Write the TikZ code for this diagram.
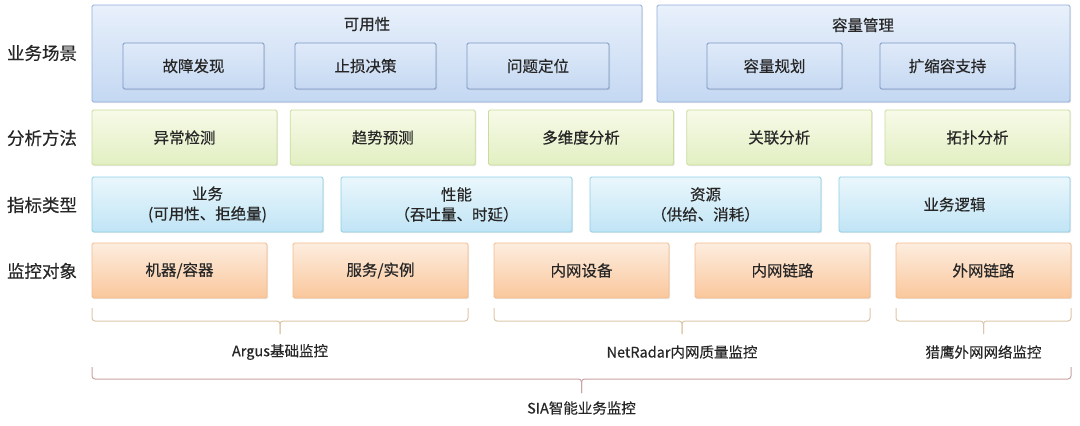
\documentclass[tikz,border=0pt]{standalone}
\usepackage{fontspec}
\setmainfont{Noto Sans CJK SC}[FakeBold=0.35]
\usetikzlibrary{calc,shadows}
\definecolor{txt}{HTML}{262626}
\definecolor{bAtop}{HTML}{E8F0FB}
\definecolor{bAbot}{HTML}{C4D8F2}
\definecolor{bAbd}{HTML}{93AEDA}
\definecolor{bItop}{HTML}{DFEAF9}
\definecolor{bIbot}{HTML}{C6D9F2}
\definecolor{bIbd}{HTML}{7B96C2}
\definecolor{gtop}{HTML}{F7FAE8}
\definecolor{gbot}{HTML}{E2EFC2}
\definecolor{gbd}{HTML}{C9DC9E}
\definecolor{ctop}{HTML}{EAF7FC}
\definecolor{cbot}{HTML}{C0E4F5}
\definecolor{cbd}{HTML}{90CEE6}
\definecolor{otop}{HTML}{FDEDDF}
\definecolor{obot}{HTML}{FAC79C}
\definecolor{obd}{HTML}{F2BC8E}
\definecolor{brA}{HTML}{DCC6A8}
\definecolor{brB}{HTML}{C9A2A2}
\tikzset{
  box/.style={rectangle, rounded corners=1.5pt, line width=0.9pt, inner sep=0pt, outer sep=0pt,
    anchor=north west, text=txt, font=\fontsize{15.5}{20}\selectfont, align=center,
    drop shadow={opacity=0.18, shadow xshift=1.2pt, shadow yshift=-1.2pt}},
  bigbox/.style={box, draw=bAbd, top color=bAtop, bottom color=bAbot},
  innerbox/.style={box, draw=bIbd, top color=bItop, bottom color=bIbot, minimum height=46pt},
  greenbox/.style={box, draw=gbd, top color=gtop, bottom color=gbot, minimum width=185pt, minimum height=55pt},
  cyanbox/.style={box, draw=cbd, top color=ctop, bottom color=cbot, minimum width=231pt, minimum height=55pt},
  orangebox/.style={box, draw=obd, top color=otop, bottom color=obot, minimum width=175pt, minimum height=55pt},
  rowlabel/.style={text=txt, font=\fontsize{17.5}{20}\selectfont, inner sep=0pt},
  titlelabel/.style={text=txt, font=\fontsize{15.5}{20}\selectfont, inner sep=0pt},
  bracelabel/.style={text=txt, font=\fontsize{14.5}{18}\selectfont, inner sep=0pt},
  bracelineA/.style={draw=brA, line width=1pt, rounded corners=3pt},
  bracelineB/.style={draw=brB, line width=1pt, rounded corners=3pt},
}
\begin{document}
\begin{tikzpicture}[x=1pt,y=-1pt]
\useasboundingbox (0,0) rectangle (1080,426);
% row labels
\node[rowlabel] (l1) at (42,53) {业务场景};
\node[rowlabel] (l2) at (42,138) {分析方法};
\node[rowlabel] (l3) at (42,205) {指标类型};
\node[rowlabel] (l4) at (42,271) {监控对象};
% row 1
\node[bigbox, minimum width=550pt, minimum height=97pt] (ka) at (92,5) {};
\node[bigbox, minimum width=413pt, minimum height=97pt] (kb) at (657,5) {};
\node[titlelabel] (ta) at (367,24) {可用性};
\node[titlelabel] (tb) at (863,25) {容量管理};
\node[innerbox, minimum width=141pt] (i1) at (123,43) {故障发现};
\node[innerbox, minimum width=141pt] (i2) at (295,43) {止损决策};
\node[innerbox, minimum width=142pt] (i3) at (467,43) {问题定位};
\node[innerbox, minimum width=135pt] (i4) at (707,43) {容量规划};
\node[innerbox, minimum width=135pt] (i5) at (880,43) {扩缩容支持};
% row 2
\node[greenbox] (g1) at (92,110) {异常检测};
\node[greenbox] (g2) at (290.25,110) {趋势预测};
\node[greenbox] (g3) at (488.5,110) {多维度分析};
\node[greenbox] (g4) at (686.75,110) {关联分析};
\node[greenbox] (g5) at (885,110) {拓扑分析};
% row 3
\node[cyanbox] (c1) at (92,177) {业务\\(可用性、拒绝量)};
\node[cyanbox] (c2) at (341,177) {性能\\（吞吐量、时延）};
\node[cyanbox] (c3) at (590,177) {资源\\（供给、消耗）};
\node[cyanbox] (c4) at (839,177) {业务逻辑};
% row 4
\node[orangebox] (m1) at (92,243) {机器/容器};
\node[orangebox] (m2) at (293,243) {服务/实例};
\node[orangebox] (m3) at (494,243) {内网设备};
\node[orangebox] (m4) at (695,243) {内网链路};
\node[orangebox] (m5) at (896,243) {外网链路};
% braces
\coordinate (b1l) at ($(m1.south west)+(0,10)$);
\coordinate (b1r) at ($(m2.south east)+(0,10)$);
\coordinate (b1t) at ($(b1l)!0.5!(b1r)$);
\draw[bracelineA] (b1l) -- ++(0,13) -| ($(b1t)+(0,26)$);
\draw[bracelineA] (b1r) -- ++(0,13) -| ($(b1t)+(0,26)$);
\node[bracelabel] (bl1) at ($(b1t)+(0,44)$) {Argus基础监控};
\coordinate (b2l) at ($(m3.south west)+(0,10)$);
\coordinate (b2r) at ($(m4.south east)+(0,10)$);
\coordinate (b2t) at ($(b2l)!0.5!(b2r)$);
\draw[bracelineA] (b2l) -- ++(0,13) -| ($(b2t)+(0,26)$);
\draw[bracelineA] (b2r) -- ++(0,13) -| ($(b2t)+(0,26)$);
\node[bracelabel] (bl2) at ($(b2t)+(0,44)$) {NetRadar内网质量监控};
\coordinate (b3l) at ($(m5.south west)+(0,10)$);
\coordinate (b3r) at ($(m5.south east)+(0,10)$);
\coordinate (b3t) at ($(b3l)!0.5!(b3r)$);
\draw[bracelineA] (b3l) -- ++(0,13) -| ($(b3t)+(0,26)$);
\draw[bracelineA] (b3r) -- ++(0,13) -| ($(b3t)+(0,26)$);
\node[bracelabel] (bl3) at ($(b3t)+(0,44)$) {猎鹰外网网络监控};
\coordinate (b4l) at ($(m1.south west)+(0,69)$);
\coordinate (b4r) at ($(m5.south east)+(0,69)$);
\coordinate (b4t) at ($(b4l)!0.5!(b4r)$);
\draw[bracelineB] (b4l) -- ++(0,12) -| ($(b4t)+(0,26)$);
\draw[bracelineB] (b4r) -- ++(0,12) -| ($(b4t)+(0,26)$);
\node[bracelabel] (bl4) at ($(b4t)+(0,41)$) {SIA智能业务监控};
\end{tikzpicture}
\end{document}
